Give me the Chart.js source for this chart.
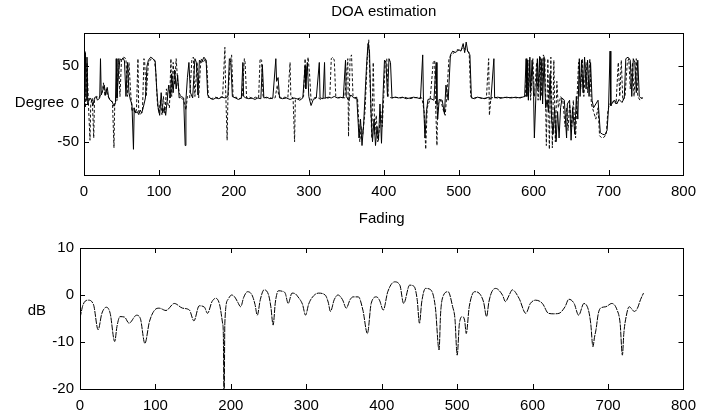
<!DOCTYPE html>
<html>
<head>
<meta charset="utf-8">
<script src="https://cdn.jsdelivr.net/npm/chart.js@4.4.1/dist/chart.umd.min.js"></script>
<style>
html,body{margin:0;padding:0;background:#fff;}
#wrap{position:relative;width:704px;height:417px;}
canvas{position:absolute;left:0;}
</style>
</head>
<body>
<div id="wrap">
<canvas id="doa" width="704" height="208" style="top:0px"></canvas>
<canvas id="fade" width="704" height="209" style="top:208px"></canvas>
</div>
<script>
// axis ticks
const xTicks = [0,100,200,300,400,500,600,700,800];
const doaTicks = [-50,0,50];
const fadeTicks = [-20,-10,0,10];

// DOA estimate, solid trace [sample, degree]
const doaSolid = [[0,70],[1,12],[2,68],[3,5],[4,62],[5,0],[6,3],[8,8],[10,5],[12,-2],[14,8],[16,10],[18,5],[21,8],[22,60],[23,12],[25,18],[27,25],[29,12],[31,22],[33,8],[35,5],[38,2],[40,-3],[42,2],[43,60],[44,8],[46,40],[48,60],[50,58],[52,61],[54,57],[56,10],[58,55],[60,15],[62,5],[64,0],[66,-60],[67,-5],[69,-12],[71,-10],[73,-14],[75,-8],[77,-12],[79,-5],[82,8],[84,50],[86,58],[89,62],[92,60],[95,57],[97,20],[99,-5],[101,-15],[103,15],[105,-12],[107,-5],[109,-15],[111,5],[113,25],[115,8],[117,40],[119,15],[121,45],[123,20],[125,38],[127,8],[130,10],[133,8],[135,-55],[136,5],[138,35],[140,55],[142,15],[145,8],[148,60],[150,55],[152,12],[154,58],[157,55],[160,62],[163,58],[165,12],[168,8],[172,6],[176,8],[180,7],[184,9],[188,8],[192,10],[194,60],[196,55],[198,10],[202,8],[206,6],[210,8],[212,55],[213,10],[216,8],[220,7],[224,8],[228,6],[232,8],[236,7],[238,52],[240,8],[244,9],[248,7],[252,8],[256,60],[257,30],[259,35],[261,8],[265,7],[270,8],[275,6],[280,8],[284,7],[288,5],[292,8],[295,50],[296,20],[298,55],[300,10],[303,-2],[306,6],[310,8],[314,55],[315,8],[319,7],[321,55],[322,8],[326,9],[330,8],[334,10],[338,8],[342,9],[346,8],[349,58],[350,10],[353,5],[356,12],[360,8],[364,9],[367,-45],[369,-20],[371,-55],[373,-30],[375,10],[377,50],[379,80],[381,70],[383,-10],[385,-50],[387,-20],[389,-55],[391,-30],[393,-48],[395,0],[397,-52],[399,10],[401,58],[403,55],[405,10],[407,60],[409,55],[411,8],[415,9],[420,8],[425,9],[430,7],[435,8],[440,9],[445,8],[449,7],[452,65],[453,5],[455,-45],[457,-10],[459,6],[463,7],[467,5],[470,55],[471,0],[472,-20],[474,6],[478,5],[481,-13],[483,25],[486,5],[489,65],[492,70],[496,68],[500,72],[503,70],[506,80],[508,68],[510,82],[512,70],[515,65],[517,8],[521,7],[525,9],[530,8],[535,7],[540,9],[543,6],[547,60],[548,8],[552,9],[558,8],[564,9],[570,8],[576,9],[582,8],[588,10],[590,60],[591,10],[592,58],[593,5],[595,62],[596,15],[598,58],[600,10],[601,-45],[603,10],[605,60],[606,20],[608,63],[609,5],[611,60],[612,0],[614,62],[616,-5],[618,5],[620,-10],[622,40],[624,-20],[626,-40],[628,-5],[630,-50],[632,-10],[634,-45],[636,-5],[638,8],[641,5],[644,-45],[645,0],[648,5],[650,-48],[652,-5],[655,-40],[657,10],[659,-20],[661,60],[662,10],[664,58],[666,15],[668,62],[670,20],[672,58],[674,10],[676,55],[678,5],[680,-5],[683,0],[686,5],[689,-38],[692,-40],[695,-41],[698,-35],[700,-5],[702,70],[703,-2],[705,2],[708,5],[711,0],[714,6],[718,2],[721,8],[723,60],[726,62],[729,58],[731,10],[733,60],[735,55],[737,15],[739,58],[741,10],[743,8],[746,8]];

// DOA estimate, dashed trace [sample, degree]
const doaDashed = [[0,60],[2,-5],[4,55],[6,-2],[8,-48],[9,0],[11,8],[13,-45],[14,5],[17,10],[20,8],[24,15],[26,28],[28,10],[30,20],[32,10],[35,6],[38,3],[40,-58],[41,0],[44,5],[46,60],[48,10],[50,58],[53,62],[56,60],[58,10],[60,55],[62,20],[64,-10],[66,-5],[68,-12],[70,-8],[72,60],[73,-10],[75,-14],[78,-10],[80,60],[81,55],[83,10],[86,55],[90,60],[94,58],[96,40],[98,0],[100,-12],[102,5],[104,-14],[106,10],[108,-12],[110,20],[112,0],[114,-5],[116,60],[117,10],[119,55],[121,25],[123,60],[125,30],[127,15],[130,8],[133,5],[136,-8],[138,10],[141,8],[144,60],[146,62],[148,10],[151,55],[153,8],[156,60],[159,55],[162,60],[164,50],[166,8],[170,7],[175,9],[180,8],[185,10],[188,75],[189,20],[191,-48],[192,5],[195,55],[197,65],[199,8],[203,9],[207,7],[211,8],[214,60],[215,55],[217,8],[221,9],[225,7],[229,9],[233,8],[235,60],[237,58],[239,10],[243,8],[247,9],[251,7],[255,8],[258,25],[260,10],[264,8],[268,9],[272,8],[275,55],[276,10],[279,8],[281,-50],[282,5],[285,7],[289,8],[293,10],[295,60],[297,35],[299,62],[301,40],[303,5],[307,8],[311,9],[316,6],[320,8],[324,7],[328,9],[330,60],[332,62],[334,58],[336,10],[340,8],[344,9],[348,8],[352,60],[353,-43],[355,60],[357,65],[359,10],[362,7],[365,8],[368,-50],[370,-30],[372,-40],[375,-10],[378,60],[380,85],[382,20],[384,-45],[386,55],[388,-40],[390,-15],[392,-50],[394,-35],[396,-10],[398,-30],[400,10],[402,55],[404,60],[406,10],[410,8],[416,9],[422,8],[428,9],[434,7],[440,8],[446,9],[451,8],[454,-10],[456,-60],[458,-5],[462,7],[466,55],[468,58],[469,5],[471,-55],[472,0],[476,5],[480,-10],[482,-15],[484,10],[487,60],[490,65],[494,68],[498,72],[502,70],[506,75],[510,72],[514,68],[516,10],[520,8],[526,9],[532,7],[537,8],[540,60],[541,-15],[543,8],[548,9],[554,7],[560,9],[566,8],[572,9],[578,8],[584,9],[589,10],[591,55],[593,10],[594,58],[596,5],[599,60],[601,10],[604,55],[606,5],[609,62],[610,10],[613,65],[615,60],[617,-55],[619,60],[621,-60],[623,62],[625,-58],[627,58],[629,-50],[631,30],[633,-5],[636,10],[639,5],[642,-30],[644,-5],[646,-35],[648,0],[651,-30],[653,5],[656,-45],[658,10],[660,55],[663,20],[665,60],[667,10],[670,55],[672,15],[675,60],[677,0],[680,-10],[683,-20],[686,-5],[688,-42],[691,-45],[694,-44],[697,-40],[699,-10],[701,0],[704,-2],[707,5],[710,0],[713,55],[715,10],[717,58],[719,5],[722,10],[725,55],[727,60],[729,20],[732,55],[734,10],[737,60],[739,10],[742,5],[745,8]];

// fading level [sample, dB]
const fading = [[0,-4.9],[4,-2.1],[11,-1.1],[18,-2.1],[24,-7.4],[29,-3.9],[35,-2.6],[40,-3.9],[46,-9.9],[49,-6.7],[53,-4.6],[59,-4.7],[65,-6],[75,-4.3],[80,-5],[86,-10.3],[92,-5.7],[99,-3.2],[105,-2.8],[114,-3.3],[125,-1.8],[136,-2.8],[145,-3.2],[151,-5.5],[158,-2.3],[165,-2.6],[169,-3.9],[175,-1.4],[180,-0.7],[185,-2],[189,-6],[190,-8.2],[191,-25],[192,-6],[196,-1],[201,0],[205,-0.4],[209,-1.5],[213,-2.5],[217,-0.5],[222,0.7],[228,0],[232,-2],[235,-4.3],[239,-1],[244,1.1],[250,0],[253,-2.5],[256,-6.4],[259,-1.5],[263,0.9],[268,0.8],[272,0.4],[276,-1.8],[281,0.4],[285,0.3],[289,-0.4],[295,-2],[299,-4.3],[303,-2],[307,-0.7],[316,0.4],[325,0],[329,-1.5],[332,-3.5],[337,-1],[342,0],[348,-1],[353,-2.8],[358,-1],[362,-0.4],[369,-0.4],[375,-3.2],[381,-8.2],[386,-1.8],[393,-0.4],[397,-1.1],[402,-3.2],[408,0.7],[417,2.8],[424,2.1],[429,-1.8],[437,2.1],[443,1.8],[447,-1],[450,-6],[453,-1.5],[458,1.4],[465,1.1],[471,-2.5],[476,-11.7],[478,-4],[481,-0.4],[488,0.7],[494,-2.5],[497,-5],[500,-12.8],[503,-6],[507,-4.6],[510,-5.5],[512,-8.2],[516,-2.5],[523,0.7],[529,0.4],[535,-1.5],[539,-4.6],[542,-1.5],[546,0.7],[551,1.4],[560,0],[564,-1.4],[569,0],[573,1.1],[582,-0.7],[591,-3.9],[597,-1.8],[604,-1.1],[613,-1.8],[621,-3.9],[628,-4],[635,-3.9],[643,-2.5],[648,-0.9],[655,-1.8],[661,-4.3],[668,-1.8],[674,-3.2],[677,-6],[680,-11],[682,-9],[684,-7.4],[687,-4],[690,-2.8],[697,-2.5],[705,-1.8],[712,-3.2],[716,-6],[719,-12.8],[721,-8],[724,-4.6],[728,-2.5],[735,-3.5],[739,-2.8],[743,-1],[747,0.4]];

Chart.defaults.font.family = '"Liberation Sans", Arial, sans-serif';
Chart.defaults.font.size = 15;
Chart.defaults.color = '#000';

const toXY = arr => arr.map(p => ({x: p[0], y: p[1]}));

// matlab style box with inward ticks, title and horizontal ylabel
const matlabBox = {
  id: 'matlabBox',
  afterDraw(chart, args, o) {
    const {ctx, chartArea: a, scales} = chart;
    ctx.save();
    ctx.strokeStyle = '#000';
    ctx.lineWidth = 1;
    ctx.strokeRect(Math.round(a.left) + 0.5, Math.round(a.top) + 0.5, Math.round(a.right - a.left), Math.round(a.bottom - a.top));
    ctx.beginPath();
    scales.x.ticks.forEach(t => {
      const px = Math.round(scales.x.getPixelForValue(t.value)) + 0.5;
      ctx.moveTo(px, a.bottom); ctx.lineTo(px, a.bottom - 5);
      ctx.moveTo(px, a.top); ctx.lineTo(px, a.top + 5);
    });
    scales.y.ticks.forEach(t => {
      const py = Math.round(scales.y.getPixelForValue(t.value)) + 0.5;
      ctx.moveTo(a.left, py); ctx.lineTo(a.left + 5, py);
      ctx.moveTo(a.right, py); ctx.lineTo(a.right - 5, py);
    });
    ctx.stroke();
    ctx.fillStyle = '#000';
    ctx.font = '15px "Liberation Sans", Arial, sans-serif';
    ctx.textBaseline = 'middle';
    ctx.textAlign = 'center';
    ctx.fillText(o.title, (a.left + a.right) / 2, o.titleY);
    ctx.textAlign = 'right';
    ctx.fillText(o.ylabel, o.ylabelX, o.ylabelY);
    ctx.restore();
  }
};

function xScale(w) {
  return {
    type: 'linear', min: 0, max: 800,
    afterBuildTicks: s => { s.ticks = xTicks.map(v => ({value: v})); },
    afterFit: s => { s.height = w; },
    grid: {display: false, drawTicks: false},
    border: {display: false},
    ticks: {padding: 8, maxRotation: 0}
  };
}

new Chart(document.getElementById('doa'), {
  type: 'line',
  data: {
    datasets: [
      {data: toXY(doaSolid), borderColor: '#000', borderWidth: 1, pointRadius: 0, tension: 0},
      {data: toXY(doaDashed), borderColor: '#111', borderWidth: 1, borderDash: [3, 2], pointRadius: 0, tension: 0}
    ]
  },
  options: {
    responsive: false,
    animation: false,
    layout: {padding: {left: 0, right: 15, top: 33, bottom: 0}},
    plugins: {
      legend: {display: false},
      tooltip: {enabled: false},
      matlabBox: {title: 'DOA estimation', titleY: 12, ylabel: 'Degree', ylabelX: 64, ylabelY: 103}
    },
    scales: {
      x: xScale(33),
      y: {
        type: 'linear', min: -94, max: 94,
        afterBuildTicks: s => { s.ticks = doaTicks.map(v => ({value: v})); },
        afterFit: s => { s.width = 84; },
        grid: {display: false, drawTicks: false},
        border: {display: false},
        ticks: {padding: 5}
      }
    }
  },
  plugins: [matlabBox]
});

new Chart(document.getElementById('fade'), {
  type: 'line',
  data: {
    datasets: [
      {data: toXY(fading), borderColor: '#000', borderWidth: 1, borderDash: [6, 1], pointRadius: 0, cubicInterpolationMode: 'monotone'}
    ]
  },
  options: {
    responsive: false,
    animation: false,
    layout: {padding: {left: 0, right: 17, top: 40, bottom: 0}},
    plugins: {
      legend: {display: false},
      tooltip: {enabled: false},
      matlabBox: {title: 'Fading', titleY: 11, ylabel: 'dB', ylabelX: 46, ylabelY: 103}
    },
    scales: {
      x: xScale(28),
      y: {
        type: 'linear', min: -20, max: 10,
        afterBuildTicks: s => { s.ticks = fadeTicks.map(v => ({value: v})); },
        afterFit: s => { s.width = 80; },
        grid: {display: false, drawTicks: false},
        border: {display: false},
        ticks: {padding: 6}
      }
    }
  },
  plugins: [matlabBox]
});
</script>
</body>
</html>
